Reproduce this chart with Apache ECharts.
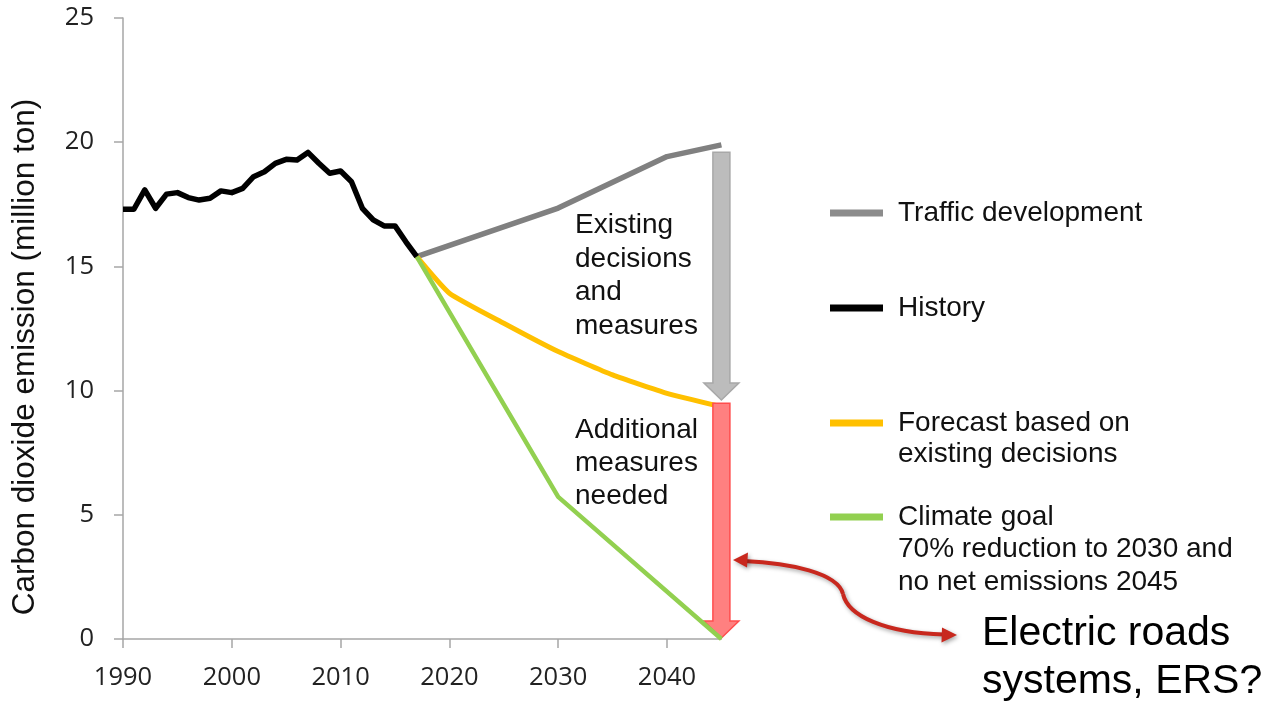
<!DOCTYPE html>
<html>
<head>
<meta charset="utf-8">
<script src="https://cdn.jsdelivr.net/npm/echarts@6/dist/echarts.min.js"></script>
<style>html,body{margin:0;padding:0;background:#fff}#c{width:1274px;height:709px}</style>
</head>
<body>
<div id="c"></div>
<script>
// ---- data ----
var historyYears = [1990,1991,1992,1993,1994,1995,1996,1997,1998,1999,2000,2001,2002,2003,2004,2005,2006,2007,2008,2009,2010,2011,2012,2013,2014,2015,2016,2017];
var historyValues = [17.3,17.3,18.08,17.34,17.91,17.97,17.77,17.67,17.74,18.04,17.97,18.14,18.61,18.81,19.15,19.31,19.28,19.59,19.15,18.75,18.84,18.41,17.34,16.87,16.63,16.63,15.99,15.39];
var trafficYears = [2017,2030,2040,2045];
var trafficValues = [15.39,17.35,19.42,19.89];
var forecastYears = [2017,2020,2025,2030,2035,2040,2045];
var forecastValues = [15.39,13.92,12.71,11.57,10.63,9.89,9.35];
var goalYears = [2017,2030,2045];
var goalValues = [15.39,5.72,0];
// arrows: [year, from value, to value]
var arrowGray = [2045,19.6,9.62];
var arrowRed = [2045,9.49,0.04];
var xTickLabels = [1990,2000,2010,2020,2030,2040];
var seriesNames = ['Traffic development','History','Forecast based on existing decisions','Climate goal'];

function pairs(xs, ys){ return xs.map(function(x,i){ return [x, ys[i]]; }); }

var chart = echarts.init(document.getElementById('c'), null, {renderer:'canvas'});
var textFont = 'Liberation Sans, Arial, sans-serif';
var axisFont = 'Open Sans, sans-serif';

function legendFor(name, top, firstLine){
  return {
    data:[name], left:830, top:top, padding:0, orient:'vertical',
    icon:'rect', itemWidth:53, itemHeight:7, selectedMode:false,
    formatter:function(){ return firstLine; },
    textStyle:{fontFamily:textFont, fontSize:28, color:'#111', padding:[0,0,0,10]}
  };
}

var shadow = {shadowBlur:4, shadowColor:'rgba(0,0,0,0.35)', shadowOffsetX:1.5, shadowOffsetY:2};
function withShadow(o){ for (var k in shadow) o[k] = shadow[k]; return o; }

var option = {
  animation:false,
  backgroundColor:'#fff',
  grid:{left:123, right:552.6, top:18, bottom:70, containLabel:false},
  xAxis:{
    type:'value', min:1990, max:2045,
    axisLine:{show:true, lineStyle:{color:'#a6a6a6', width:1.5}},
    axisTick:{show:true, length:9, customValues:xTickLabels, lineStyle:{color:'#a6a6a6', width:1.5}},
    axisLabel:{customValues:xTickLabels, margin:26, fontFamily:axisFont, fontSize:25.5, color:'#222',
      formatter:function(v){ return String(v); }},
    splitLine:{show:false}
  },
  yAxis:{
    type:'value', min:0, max:25, interval:5,
    axisLine:{show:true, lineStyle:{color:'#a6a6a6', width:1.5}},
    axisTick:{show:true, length:9, lineStyle:{color:'#a6a6a6', width:1.5}},
    axisLabel:{margin:29, fontFamily:axisFont, fontSize:25.5, color:'#222'},
    splitLine:{show:false}
  },
  legend:[
    legendFor(seriesNames[0], 199, 'Traffic development'),
    legendFor(seriesNames[1], 294, 'History'),
    legendFor(seriesNames[2], 409, 'Forecast based on'),
    legendFor(seriesNames[3], 503, 'Climate goal')
  ],
  series:[
    {name:seriesNames[0], type:'line', data:pairs(trafficYears, trafficValues), showSymbol:false, symbol:'none', clip:false, z:2,
     lineStyle:{color:'#808080', width:5.5}, itemStyle:{color:'#8c8c8c'}},
    {name:seriesNames[2], type:'line', data:pairs(forecastYears, forecastValues), showSymbol:false, symbol:'none', clip:false, z:2, smooth:0.15,
     lineStyle:{color:'#ffc000', width:5}, itemStyle:{color:'#ffc000'}},
    {name:seriesNames[3], type:'line', data:pairs(goalYears, goalValues), showSymbol:false, symbol:'none', clip:false, z:3,
     lineStyle:{color:'#92d050', width:4.5}, itemStyle:{color:'#92d050'}},
    {name:seriesNames[1], type:'line', data:pairs(historyYears, historyValues), showSymbol:false, symbol:'none', clip:false, z:4,
     lineStyle:{color:'#000', width:5.5, join:'round'}, itemStyle:{color:'#000'}},
    {name:'arrows', type:'custom', clip:false, z:3,
     data:[arrowGray, arrowRed],
     renderItem:function(params, api){
       var top = api.coord([api.value(0), api.value(1)]);
       var tip = api.coord([api.value(0), api.value(2)]);
       var sw = 8.5, hw = 17.5, hl = 17, cx = top[0];
       var pts = [[cx-sw, top[1]],[cx+sw, top[1]],[cx+sw, tip[1]-hl],[cx+hw, tip[1]-hl],[cx, tip[1]],[cx-hw, tip[1]-hl],[cx-sw, tip[1]-hl]];
       var red = params.dataIndex === 1;
       return {type:'polygon', shape:{points:pts},
         style:{fill: red ? '#ff8080' : '#bcbcbc', stroke: red ? '#ff4d4d' : '#a8a8a8', lineWidth:1.5}};
     }
    }
  ],
  graphic:[
    {type:'text', x:25, y:357, rotation:Math.PI/2,
     style:{text:'Carbon dioxide emission (million ton)', font:'31.5px ' + textFont, fill:'#111', align:'center', verticalAlign:'middle'}},
    {type:'text', x:898, y:454.5, style:{text:'existing decisions', font:'28px ' + textFont, fill:'#111', verticalAlign:'middle'}},
    {type:'text', x:898, y:549, style:{text:'70% reduction to 2030 and', font:'28px ' + textFont, fill:'#111', verticalAlign:'middle'}},
    {type:'text', x:898, y:582, style:{text:'no net emissions 2045', font:'28px ' + textFont, fill:'#111', verticalAlign:'middle'}},
    {type:'text', x:575, y:209, style:{text:'Existing\ndecisions\nand\nmeasures', font:'28px ' + textFont, lineHeight:33.4, fill:'#111', verticalAlign:'top'}},
    {type:'text', x:575, y:413.3, style:{text:'Additional\nmeasures\nneeded', font:'28px ' + textFont, lineHeight:33, fill:'#111', verticalAlign:'top'}},
    {type:'text', x:982, y:609.4, style:{text:'Electric roads\nsystems, ERS?', font:'41px ' + textFont, lineHeight:48.4, fill:'#000', verticalAlign:'top'}},
    {type:'bezierCurve', z:10,
     shape:{x1:744, y1:561, cpx1:790, cpy1:563, cpx2:838, cpy2:573, x2:843, y2:594},
     style:withShadow({fill:null, stroke:'#c8281e', lineWidth:4})},
    {type:'bezierCurve', z:10,
     shape:{x1:843, y1:594, cpx1:848, cpy1:616, cpx2:885, cpy2:633, x2:944, y2:634.5},
     style:withShadow({fill:null, stroke:'#c8281e', lineWidth:4})},
    {type:'polygon', z:10, shape:{points:[[733,560],[748,552.5],[747,567.5]]},
     style:withShadow({fill:'#c8281e'})},
    {type:'polygon', z:10, shape:{points:[[957,635],[942,627.5],[941.5,642.5]]},
     style:withShadow({fill:'#c8281e'})}
  ]
};
chart.setOption(option);
</script>
</body>
</html>
